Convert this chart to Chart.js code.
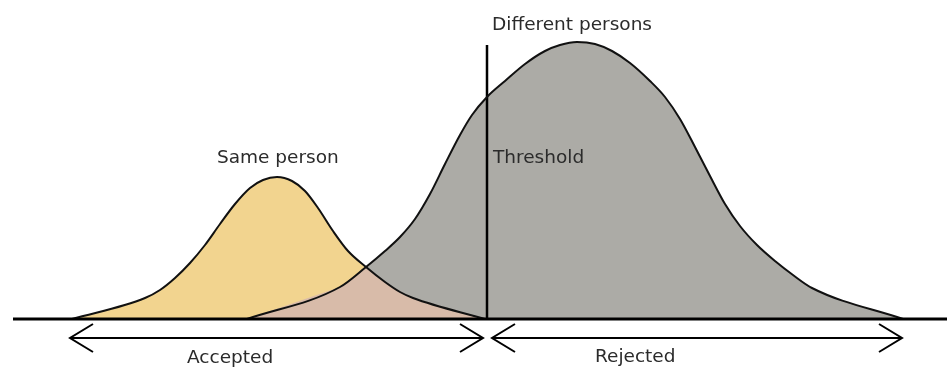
<!DOCTYPE html>
<html>
<head>
<meta charset="utf-8">
<script src="https://cdn.jsdelivr.net/npm/chart.js@4.4.1/dist/chart.umd.min.js"></script>
<style>
  html, body { margin: 0; padding: 0; background: #fff; }
  #box { width: 947px; height: 367px; }
</style>
</head>
<body>
<div id="box"><canvas id="scores" width="947" height="367"></canvas></div>
<script>
// match score on x, frequency on y (0 = axis line)
var samePersonX = [72, 145, 160, 175, 190, 205, 220, 235, 250, 263, 277, 292, 305, 318, 333, 348, 366, 385, 400, 413, 485]
var samePersonY = [0, 21, 29, 41, 56, 74, 95, 115, 131, 139, 142, 138, 128, 111, 88, 68, 52, 37, 27, 21, 0]

var diffPersonsX = [247, 340, 366, 385, 400, 415, 430, 445, 460, 472, 487, 505, 525, 545, 560, 577, 595, 612, 630, 650, 665, 680, 695, 710, 725, 740, 757, 775, 793, 812, 903]
var diffPersonsY = [0, 32, 52, 68, 82, 100, 125, 155, 184, 204, 222, 238, 255, 268, 274, 277, 275, 268, 256, 238, 222, 200, 172, 143, 115, 93, 74, 58, 44, 31, 0]

// overlap area (false accepts / false rejects)
var overlapX = [247, 340, 353, 366, 375, 385, 400, 413, 485]
var overlapY = [0, 32, 42, 52, 45, 37, 27, 21, 0]

var threshold = 487
var thresholdTop = 274
var axisRange = [13, 947]
var acceptedRange = [70, 483]
var rejectedRange = [492, 902]
var arrowLevel = -19
var headW = 23, headH = 14

var labels = [
  { text: 'Different persons', x: 492, y: 289 },
  { text: 'Same person', x: 217, y: 156 },
  { text: 'Threshold', x: 493, y: 156 },
  { text: 'Accepted', x: 187, y: -44 },
  { text: 'Rejected', x: 595, y: -43 }
]

function pts(xs, ys) {
  var out = []
  for (var i = 0; i < xs.length; i++) out.push({ x: xs[i], y: ys[i] })
  return out
}

function arrow(range) {
  var a = range[0], b = range[1], y = arrowLevel
  return [
    { x: a + headW, y: y + headH }, { x: a, y: y }, { x: a + headW, y: y - headH }, { x: NaN, y: NaN },
    { x: a, y: y }, { x: b, y: y }, { x: NaN, y: NaN },
    { x: b - headW, y: y + headH }, { x: b, y: y }, { x: b - headW, y: y - headH }
  ]
}

var textPlugin = {
  id: 'texts',
  afterDatasetsDraw: function(chart) {
    var ctx = chart.ctx
    var sx = chart.scales.x, sy = chart.scales.y
    ctx.save()
    ctx.font = '18.5px "DejaVu Sans"'
    ctx.fillStyle = '#2b2b2b'
    ctx.textAlign = 'left'
    ctx.textBaseline = 'alphabetic'
    labels.forEach(function(l) {
      ctx.fillText(l.text, sx.getPixelForValue(l.x), sy.getPixelForValue(l.y))
    })
    ctx.restore()
  }
}

var smooth = { cubicInterpolationMode: 'monotone', pointRadius: 0, showLine: true }

new Chart(document.getElementById('scores'), {
  type: 'scatter',
  data: {
    datasets: [
      Object.assign({ label: 'diff fill', data: pts(diffPersonsX, diffPersonsY), backgroundColor: '#acaba6', borderWidth: 0, fill: 'origin', order: 6 }, smooth),
      Object.assign({ label: 'same fill', data: pts(samePersonX, samePersonY), backgroundColor: '#f2d48f', borderWidth: 0, fill: 'origin', order: 5 }, smooth),
      { label: 'overlap', data: pts(overlapX, overlapY), showLine: true, pointRadius: 0, tension: 0, backgroundColor: '#d8bba9', borderWidth: 0, fill: 'origin', order: 4 },
      { label: 'threshold', data: [{ x: threshold, y: 0 }, { x: threshold, y: thresholdTop }], showLine: true, pointRadius: 0, borderColor: '#000', borderWidth: 2.5, order: 3 },
      Object.assign({ label: 'Different persons', data: pts(diffPersonsX, diffPersonsY), borderColor: '#111', borderWidth: 2, fill: false, order: 2 }, smooth),
      Object.assign({ label: 'Same person', data: pts(samePersonX, samePersonY), borderColor: '#111', borderWidth: 2, fill: false, order: 1 }, smooth),
      { label: 'axis', data: [{ x: axisRange[0], y: 0 }, { x: axisRange[1], y: 0 }], showLine: true, pointRadius: 0, borderColor: '#000', borderWidth: 3, order: 0 },
      { label: 'accepted', data: arrow(acceptedRange), showLine: true, spanGaps: false, pointRadius: 0, borderColor: '#000', borderWidth: 2, order: 0 },
      { label: 'rejected', data: arrow(rejectedRange), showLine: true, spanGaps: false, pointRadius: 0, borderColor: '#000', borderWidth: 2, order: 0 }
    ]
  },
  options: {
    responsive: false,
    animation: false,
    layout: { padding: 0 },
    plugins: { legend: { display: false }, tooltip: { enabled: false } },
    scales: {
      x: { type: 'linear', min: 0, max: 947, display: false },
      y: { type: 'linear', min: -48, max: 319, display: false }
    }
  },
  plugins: [textPlugin]
})
</script>
</body>
</html>
